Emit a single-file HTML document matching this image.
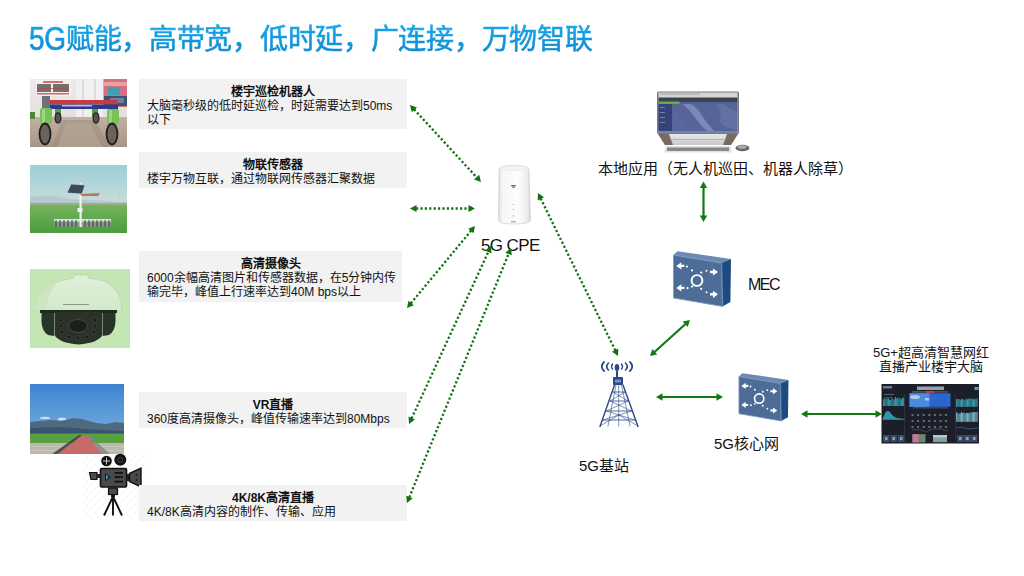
<!DOCTYPE html>
<html lang="zh-CN"><head><meta charset="utf-8">
<style>
*{margin:0;padding:0;box-sizing:border-box}
html,body{width:1024px;height:576px;overflow:hidden;background:#fff}
body{position:relative;font-family:"Liberation Sans",sans-serif;color:#111}
#title{position:absolute;left:29px;top:23px;font-size:28px;line-height:34px;font-weight:500;-webkit-text-stroke:0.6px transparent;letter-spacing:-0.28px;white-space:nowrap;color:#0e96da;
 background:linear-gradient(#19a9ea,#0a86ce);-webkit-background-clip:text;background-clip:text;-webkit-text-fill-color:transparent}
.box{position:absolute;left:139px;width:268px;background:#f2f2f2;font-size:12px;font-weight:300;line-height:14px;padding:5px 0 0 8px;color:#111;white-space:nowrap}
.box b{display:block;text-align:center;font-weight:bold;padding-right:8px}
.pic{position:absolute;overflow:hidden}
.d5{display:inline-block;transform:scaleY(1.17);transform-origin:50% 60%;background:linear-gradient(#19a9ea,#0a86ce);-webkit-background-clip:text;background-clip:text;-webkit-text-fill-color:transparent}
.lbl{position:absolute;font-size:15px;white-space:nowrap;color:#111}
svg{position:absolute;left:0;top:0}
</style></head><body>
<div id="title"><span class="d5">5G</span>赋能，高带宽，低时延，广连接，万物智联</div>


<svg width="1024" height="576" viewBox="0 0 1024 576" id="pics">
<defs>
<linearGradient id="wallg" x1="0" x2="0" y1="0" y2="1"><stop offset="0" stop-color="#ecebea"/><stop offset="1" stop-color="#dcd8d4"/></linearGradient>
<linearGradient id="floorg" x1="0" x2="0" y1="0" y2="1"><stop offset="0" stop-color="#c2b2a2"/><stop offset="1" stop-color="#a89484"/></linearGradient>
<linearGradient id="skyg" x1="0" x2="0" y1="0" y2="1"><stop offset="0" stop-color="#9ccfd8"/><stop offset="1" stop-color="#c8dcd8"/></linearGradient>
<linearGradient id="grassg" x1="0" x2="0" y1="0" y2="1"><stop offset="0" stop-color="#78b460"/><stop offset="1" stop-color="#4c9c3c"/></linearGradient>
<linearGradient id="sky2" x1="0" x2="0" y1="0" y2="1"><stop offset="0" stop-color="#3c84d0"/><stop offset="0.6" stop-color="#6aa4dc"/><stop offset="1" stop-color="#a8c8e6"/></linearGradient>
<linearGradient id="domeg" x1="0" x2="0" y1="0" y2="1"><stop offset="0" stop-color="#e0f1da"/><stop offset="1" stop-color="#d2e9c8"/></linearGradient>
</defs>
<!-- robot photo -->
<rect x="30" y="79" width="97" height="68" fill="url(#wallg)"/>
<rect x="30" y="117" width="97" height="30" fill="url(#floorg)"/>
<path d="M52,147 L62,120 L95,120 L110,147z" fill="#9a8a7c" opacity="0.5"/>
<path d="M58,147 L66,123 L90,123 L102,147z" fill="#b8a898" opacity="0.6"/>
<rect x="36" y="80" width="35" height="16" fill="#f4f2f0"/>
<rect x="43" y="81" width="20" height="2" fill="#d05050" opacity="0.8"/>
<rect x="37" y="84" width="14" height="8" fill="#5a5a5a" opacity="0.85"/>
<rect x="53" y="84" width="16" height="8" fill="#5a5a5a" opacity="0.85"/>
<rect x="37" y="88" width="32" height="0.8" fill="#c04040" opacity="0.8"/>
<rect x="37" y="93" width="32" height="1.5" fill="#d04040" opacity="0.8"/>
<rect x="76" y="79" width="27" height="38" fill="#f0f0f0"/>
<rect x="82" y="79" width="2" height="38" fill="#dcdcdc"/><rect x="94" y="79" width="2" height="38" fill="#dcdcdc"/>
<rect x="103.5" y="79" width="23.5" height="28" fill="#d07080"/>
<rect x="104" y="82" width="23" height="4" fill="#e8a0a0"/>
<rect x="108" y="87" width="12" height="8" fill="#40a0b0"/>
<rect x="104" y="96" width="23" height="10" fill="#405070"/>
<rect x="110" y="98" width="14" height="5" fill="#7080a0"/>
<rect x="42" y="96" width="8" height="13" fill="#707078"/>
<rect x="50" y="100" width="68" height="4.5" fill="#c83a40"/>
<rect x="50" y="104.5" width="68" height="4.5" fill="#2a3a90"/>
<rect x="62" y="105" width="30" height="1.5" fill="#e0e0f0" opacity="0.8"/>
<rect x="40" y="108" width="12" height="16" rx="2" fill="#78c058"/>
<rect x="42" y="109" width="3" height="14" fill="#a8e090" opacity="0.7"/>
<rect x="107" y="109" width="12" height="15" rx="2" fill="#78c058"/>
<rect x="109" y="110" width="3" height="13" fill="#a8e090" opacity="0.7"/>
<rect x="55" y="109" width="6" height="8" fill="#5a9a48"/><rect x="92" y="109" width="6" height="8" fill="#5a9a48"/>
<ellipse cx="45" cy="134" rx="5.5" ry="10.5" fill="#6a625c" stroke="#1e1e1e" stroke-width="1.8"/>
<ellipse cx="112" cy="134" rx="5.5" ry="10.5" fill="#6a625c" stroke="#1e1e1e" stroke-width="1.8"/>
<ellipse cx="58" cy="118" rx="2.8" ry="5" fill="#5a5450" stroke="#2a2a2a" stroke-width="1.4"/>
<ellipse cx="96" cy="118" rx="2.8" ry="5" fill="#5a5450" stroke="#2a2a2a" stroke-width="1.4"/>
<rect x="30" y="112" width="5" height="7" fill="#4a8a3a"/>

<!-- sensor photo -->
<rect x="30" y="165" width="97" height="38" fill="url(#skyg)"/>
<path d="M30,197 Q50,193 70,199 L127,202 L127,204 L30,204z" fill="#b6cace"/>
<rect x="30" y="203" width="97" height="30" fill="url(#grassg)"/>
<rect x="30" y="203" width="97" height="2" fill="#9aae80"/>
<rect x="54" y="219" width="57" height="8" fill="#8a9890" opacity="0.9"/>
<rect x="54" y="219" width="57" height="2.5" fill="#e8ecea" opacity="0.9"/>
<g stroke="#2a3a30" stroke-width="0.9"><path d="M56,220v7M60,220v7M64,220v7M68,220v7M72,220v7M76,220v7M85,220v7M89,220v7M93,220v7M97,220v7M101,220v7M105,220v7M109,220v7"/></g>
<rect x="79.5" y="183" width="2.2" height="44" fill="#eef0f0"/>
<path d="M67,193 L71,184 L85,185 L82,194z" fill="#3a4a5a" stroke="#e0e4e4" stroke-width="0.6"/>
<path d="M80,194 L100,193 L98,196 L82,196z" fill="#b07a60"/>
<rect x="77.5" y="208" width="5" height="4" fill="#f0f0f0"/>
<rect x="118" y="191" width="1.5" height="12" fill="#c8d0d0"/>

<!-- camera photo -->
<rect x="30" y="269" width="100" height="79" fill="#c4e6b4"/>
<path d="M35,311 Q36,290 55,282 L74,278 L74,275 L88,275 L88,278 L104,281 Q122,290 122,311z" fill="url(#domeg)" stroke="#b4d0a8" stroke-width="0.6"/>
<path d="M35,311 Q36,290 55,282 L58,282 Q48,292 46,311z" fill="#cce6c2"/>
<rect x="63" y="304" width="26" height="1" fill="#8a9a88"/>
<rect x="40" y="310" width="77" height="3" fill="#1e2a1e"/>
<path d="M41.5,313 L54,313 L54,336 L48,335 Q42,331 41.5,322z" fill="#283428"/>
<path d="M115.5,313 L103,313 L103,336 L109,335 Q115,331 115.5,322z" fill="#283428"/>
<path d="M54.5,312 L102.5,312 L102.5,335 Q98,343 78.5,344.5 Q59,343 54.5,335z" fill="#2a322a"/>
<ellipse cx="78" cy="326" rx="9.5" ry="6.5" fill="#1a201a" stroke="#4a544a" stroke-width="0.8"/>
<g fill="#1a1e1a" stroke="#4a524a" stroke-width="0.5">
<circle cx="61" cy="320" r="2"/><circle cx="61" cy="326" r="2"/><circle cx="62" cy="332" r="2"/>
<circle cx="95" cy="320" r="2"/><circle cx="95" cy="326" r="2"/><circle cx="94" cy="332" r="2"/>
<circle cx="69" cy="337" r="2"/><circle cx="78" cy="338" r="2"/><circle cx="87" cy="337" r="2"/>
</g>

<!-- landscape photo -->
<rect x="30" y="384" width="94" height="70" fill="url(#sky2)"/>
<ellipse cx="45" cy="418" rx="5" ry="1.2" fill="#e8eef8" opacity="0.8"/>
<ellipse cx="62" cy="419" rx="4" ry="1.5" fill="#eef2fa" opacity="0.8"/>
<path d="M30,422 L40,421 L52,420 L60,421 L66,420 L74,418 L82,419 L96,423 L106,424 L116,422 L124,423 L124,436 L30,436z" fill="#4e6a80"/>
<path d="M30,428 L60,427 L100,430 L124,431 L124,436 L30,436z" fill="#3a5470"/>
<rect x="30" y="433.5" width="94" height="9.5" fill="#58a040"/>
<rect x="30" y="443" width="94" height="11" fill="#bcb8ae"/>
<rect x="30" y="446" width="94" height="1" fill="#d0ccc4" opacity="0.7"/><rect x="30" y="450" width="94" height="1" fill="#d0ccc4" opacity="0.7"/>
<path d="M82,435 L86,435 L103,454 L58,454z" fill="#c86a6a"/>
<path d="M82,435 L58,454 L52,454 L79,435z" fill="#3a3a3a" opacity="0.8"/>
<path d="M86,435 L103,454 L110,454 L89,435z" fill="#7a8a88" opacity="0.8"/>

<!-- video camera icon -->
<defs><pattern id="hatch" width="8" height="8" patternUnits="userSpaceOnUse" x="83" y="453"><path d="M0,0 L8,8 M8,0 L0,8" stroke="#efefef" stroke-width="0.5"/></pattern></defs>
<rect x="83" y="454" width="62" height="64" fill="url(#hatch)"/>

<g>
<circle cx="106.5" cy="461" r="5.3" fill="#111"/>
<path d="M106.5,457.5 v7 M103,461 h7" stroke="#ddd" stroke-width="0.9"/>
<circle cx="120.3" cy="459.8" r="6" fill="#111"/>
<circle cx="120.3" cy="459.8" r="2.5" fill="none" stroke="#555" stroke-width="0.8"/>
<rect x="100.5" y="468.5" width="26" height="18.5" rx="1.2" fill="#4a4a4a" stroke="#111" stroke-width="1.6"/>
<path d="M105,473 L111,477.2 L105,481.4z" fill="#1a1a1a"/>
<path d="M106,474.5 L108.5,477.2 L106,480z" fill="#3aa0d0"/>
<path d="M114.5,472.8 h8.5 M114.5,477.2 h8.5 M114.5,481.6 h8.5" stroke="#111" stroke-width="1.8"/>
<path d="M89.5,472.5 L97,472.5 L97,479.5 L91,479.5z" fill="#4a4a4a" stroke="#111" stroke-width="1.2"/>
<rect x="97" y="474" width="3.5" height="4" fill="#222"/>
<rect x="126.5" y="474" width="3" height="7" fill="#222"/>
<path d="M129.5,473.5 L141,468 L141,487 L129.5,481.5z" fill="#4a4a4a" stroke="#111" stroke-width="1.4"/>
<circle cx="136.5" cy="475" r="0.9" fill="#111"/><circle cx="136.5" cy="480" r="0.9" fill="#111"/>
<rect x="108.5" y="488" width="9" height="6.5" fill="#4a4a4a" stroke="#111" stroke-width="1.2"/>
<rect x="111" y="494.5" width="4" height="2.5" fill="#111"/>
<path d="M113,496.5 L104,515.5 M113,496.5 L122,515.5 M113,496.5 L113,515.5" stroke="#111" stroke-width="1.9"/>
</g>

</svg>
<div class="box" style="top:79px;height:50px;padding-top:6px"><b>楼宇巡检机器人</b>大脑毫秒级的低时延巡检，时延需要达到50ms<br>以下</div>
<div class="box" style="top:152px;height:36px;padding-top:6px"><b>物联传感器</b>楼宇万物互联，通过物联网传感器汇聚数据</div>
<div class="box" style="top:251px;height:51px;width:263px;padding-top:6px"><b>高清摄像头</b>6000余幅高清图片和传感器数据，在5分钟内传<br>输完毕，峰值上行速率达到40M bps以上</div>
<div class="box" style="top:392px;height:36px;padding-top:6px"><b>VR直播</b>360度高清摄像头，峰值传输速率达到80Mbps</div>
<div class="box" style="top:485px;height:36px;padding-top:6px"><b>4K/8K高清直播</b>4K/8K高清内容的制作、传输、应用</div>

<div class="lbl" style="left:481px;top:235.5px;font-size:17px;letter-spacing:-0.6px">5G CPE</div>
<div class="lbl" style="left:598px;top:157px;font-size:15px">本地应用（无人机巡田、机器人除草）</div>
<div class="lbl" style="left:748px;top:276px;font-size:16px;letter-spacing:-1.5px">MEC</div>
<div class="lbl" style="left:579px;top:453.5px">5G基站</div>
<div class="lbl" style="left:714px;top:432px">5G核心网</div>
<div class="lbl" style="left:873px;top:345.5px;font-size:13px;text-align:center;line-height:14.5px">5G+超高清智慧网红<br>直播产业楼宇大脑</div>

<svg width="1024" height="576" viewBox="0 0 1024 576" id="icons">
<defs>
<linearGradient id="cpeg" x1="0" x2="1" y1="0" y2="0"><stop offset="0" stop-color="#dcdcdc"/><stop offset="0.12" stop-color="#f6f6f6"/><stop offset="0.6" stop-color="#fdfdfd"/><stop offset="0.9" stop-color="#ececec"/><stop offset="1" stop-color="#d4d4d4"/></linearGradient>
<linearGradient id="boxf" x1="0" x2="0" y1="0" y2="1"><stop offset="0" stop-color="#5a7aa6"/><stop offset="1" stop-color="#4a6892"/></linearGradient>
<linearGradient id="stand" x1="0" x2="0" y1="0" y2="1"><stop offset="0" stop-color="#e8e8e8"/><stop offset="1" stop-color="#c8c8c8"/></linearGradient>
<linearGradient id="mapg" x1="0" x2="1" y1="0" y2="1"><stop offset="0" stop-color="#5a6aa8"/><stop offset="0.5" stop-color="#7a88b8"/><stop offset="1" stop-color="#3e4e90"/></linearGradient>
<g id="nbox">
 <path d="M0.5,4 L4.5,0.2 L58,8 L48.4,12z" fill="#6c8ab2"/>
 <path d="M0.5,4 L48.4,12 L49.5,55.4 L0.5,47z" fill="#4e6c98" stroke="#7c9ac0" stroke-width="0.9"/>
 <path d="M48.4,12 L58,8 L57.4,51 L49.5,55.4z" fill="#1f4a80"/>
 <path d="M48.8,12.5 L49.8,55" stroke="#8aa6c8" stroke-width="0.6"/>
 <g fill="#fff" stroke="none">
  <circle cx="24" cy="29.5" r="5.4" fill="none" stroke="#fff" stroke-width="1.9"/>
  <path d="M3.3,14.9 l5,-3.6 v2.4 h3 v2.4 h-3 v2.4z"/><circle cx="14" cy="15.6" r="1.1"/><circle cx="19" cy="19.4" r="1.1"/>
  <path d="M3.3,36.9 l5,-3.6 v2.4 h3 v2.4 h-3 v2.4z"/><circle cx="14.5" cy="37.2" r="1.1"/><circle cx="19" cy="35.6" r="1.1"/>
  <path d="M45,21 l-5,-3.6 v2.4 h-3 v2.4 h3 v2.4z"/><circle cx="28.2" cy="21.6" r="1.1"/><circle cx="33.5" cy="19.8" r="1.0"/>
  <path d="M45,43.3 l-5,-3.6 v2.4 h-3 v2.4 h3 v2.4z"/><circle cx="28.2" cy="37.8" r="1.1"/><circle cx="33.5" cy="41.2" r="1.0"/>
 </g>
</g>
</defs>
<!-- CPE -->
<path d="M499,170 Q499,165.5 514,165.5 Q529,165.5 529,170 L530.5,220 Q530.5,224 514.5,224 Q498.5,224 498.5,220z" fill="url(#cpeg)" stroke="#d0d0d0" stroke-width="0.7"/>
<ellipse cx="514" cy="168.2" rx="14" ry="2.2" fill="#f2f5f3" stroke="#dfe6e2" stroke-width="0.5"/>
<path d="M511,185 h5 v1.2 h-5z M512,186.5 h3 v1.2 h-3z" fill="#777"/>
<circle cx="513.5" cy="204.5" r="0.6" fill="#999"/><circle cx="513.5" cy="209.3" r="0.6" fill="#999"/><circle cx="513.5" cy="216" r="1.1" fill="none" stroke="#c8c8c8" stroke-width="0.5"/>
<rect x="511" y="221.3" width="5" height="1" fill="#e07060"/>

<!-- Monitor -->
<rect x="657" y="91.5" width="82" height="42.5" rx="1.5" fill="#7a7a7a"/>
<rect x="658.5" y="92.5" width="79" height="40.5" fill="#d6d6d2"/>
<rect x="660" y="93.5" width="40" height="1.2" fill="#a8a8a8"/>
<rect x="658.5" y="97.5" width="79" height="4.5" fill="#3c4252"/>
<rect x="658.5" y="102" width="79" height="29" fill="#56649a"/>
<rect x="658.5" y="102" width="13.5" height="29" fill="#36427a"/>
<rect x="658.5" y="101.5" width="21" height="2.5" fill="#5fb040"/>
<path d="M683,104 Q690,110 696,119 Q701,126 707,131 L714,131 Q705,121 699,111 Q694,105 690,104z" fill="#8a98c4" opacity="0.7"/>
<path d="M716,104 Q722,112 720,122 Q724,128 737,130 L737,112 Q728,108 724,104z" fill="#6a78ac" opacity="0.6"/>
<path d="M673,110 Q680,118 688,122 Q684,128 690,131 L673,131z" fill="#5a6aa0" opacity="0.6"/>
<rect x="660" y="107" width="5" height="0.8" fill="#8a90b0"/><rect x="660" y="112" width="5" height="0.8" fill="#8a90b0"/><rect x="660" y="117" width="5" height="0.8" fill="#8a90b0"/><rect x="660" y="122" width="5" height="0.8" fill="#8a90b0"/>
<rect x="658.5" y="131" width="79" height="2" fill="#6a88a8"/>
<path d="M658,134 L738,134 L731,145 L665,145z" fill="url(#stand)"/>
<path d="M658,134 L669,134 L673,145 L665,145z" fill="#7a6a62"/><path d="M738,134 L727,134 L723,145 L731,145z" fill="#7a6a62"/>
<rect x="670" y="139" width="56" height="0.8" fill="#b0b0b0"/>
<path d="M666,146 L730,146 L732,152.5 L664,152.5z" fill="#e2e2e2"/>
<rect x="667" y="147.5" width="62" height="3.5" fill="#6a6a6a" opacity="0.75"/>
<ellipse cx="742.5" cy="148" rx="7" ry="3.3" fill="#6a6a6a"/><ellipse cx="742" cy="147" rx="4.5" ry="1.8" fill="#aaa"/>

<!-- MEC and Core -->
<use href="#nbox" x="673" y="251"/>
<use href="#nbox" x="738.5" y="373" transform="translate(738.5 373) scale(0.862 0.866) translate(-738.5 -373)"/>

<!-- Tower -->
<g fill="none" stroke="#2a4a86" stroke-linecap="round">
 <path d="M604,362 Q599.5,366.5 604,371" stroke-width="1.8"/><path d="M630,362 Q634.5,366.5 630,371" stroke-width="1.8"/>
 <path d="M608.5,363 Q605,366.5 608.5,370" stroke-width="1.6"/><path d="M625.5,363 Q629,366.5 625.5,370" stroke-width="1.6"/>
 <path d="M612.5,364 Q610.5,366.5 612.5,369" stroke-width="1.4"/><path d="M621.5,364 Q623.5,366.5 621.5,369" stroke-width="1.4"/>
 <path d="M614.5,385 L600,426.5 M623,385 L638,426.5" stroke-width="1.4"/>
 <path d="M616,385 L608,426 M621.5,385 L630,426 M618.7,385 L618.7,426" stroke-width="0.6"/>
 <path d="M613,392 L625,392 M610,401 L628,401 M606.5,411 L631.5,411 M603,420 L635,420" stroke-width="0.8"/>
 <path d="M613,392 L628,401 L606.5,411 L635,420 M625,392 L610,401 L631.5,411 L603,420 M600,426 L618.7,415 L638,426" stroke-width="0.6"/>
</g>
<ellipse cx="617" cy="367.5" rx="2.3" ry="3.6" fill="#2a4a86"/>
<rect x="616" y="371" width="2" height="6" fill="#2a4a86"/>
<rect x="613" y="377" width="10" height="8" rx="1" fill="#2a4a86"/>
<rect x="615" y="379.5" width="6" height="3" fill="#7a90c0"/>

<!-- Dashboard screen -->
<rect x="881.5" y="384" width="97.5" height="59.5" fill="#1c1e2a"/>
<rect x="883" y="386" width="9" height="2.5" fill="#9aa0b0" opacity="0.7"/>
<rect x="917" y="386.5" width="27" height="3.5" fill="#c8ccd8" opacity="0.75"/>
<rect x="912" y="391" width="36" height="1.8" fill="#4a4e5a"/>
<rect x="926" y="391" width="8" height="1.8" fill="#d83848"/>
<rect x="974.5" y="387" width="4" height="3" fill="#30b0e0"/>
<rect x="909.5" y="393.2" width="41" height="13.6" fill="#2a66d0"/>
<rect x="909.5" y="393.2" width="20" height="13.6" fill="#4a8ae0"/>
<ellipse cx="915" cy="397" rx="5" ry="2" fill="#c8dcf4" opacity="0.8"/>
<rect x="925" y="398" width="4" height="2.5" fill="#e0e8f8" opacity="0.7"/>
<rect x="913" y="407.5" width="35" height="0.8" fill="#6a6a78"/>
<rect x="884" y="394" width="10" height="1" fill="#8a8a9a" opacity="0.6"/>
<rect x="883.20" y="399.29" width="0.9" height="6.71" fill="#38a8b8"/>
<rect x="884.38" y="398.37" width="0.9" height="7.63" fill="#38a8b8"/>
<rect x="885.56" y="398.89" width="0.9" height="7.11" fill="#38a8b8"/>
<rect x="886.74" y="398.19" width="0.9" height="7.81" fill="#38a8b8"/>
<rect x="887.92" y="398.12" width="0.9" height="7.88" fill="#38a8b8"/>
<rect x="889.10" y="399.80" width="0.9" height="6.20" fill="#38a8b8"/>
<rect x="890.28" y="399.96" width="0.9" height="6.04" fill="#38a8b8"/>
<rect x="891.46" y="397.49" width="0.9" height="8.51" fill="#38a8b8"/>
<rect x="892.64" y="399.22" width="0.9" height="6.78" fill="#38a8b8"/>
<rect x="893.82" y="399.30" width="0.9" height="6.70" fill="#38a8b8"/>
<rect x="895.00" y="397.01" width="0.9" height="8.99" fill="#38a8b8"/>
<rect x="896.18" y="398.59" width="0.9" height="7.41" fill="#38a8b8"/>
<rect x="897.36" y="397.49" width="0.9" height="8.51" fill="#38a8b8"/>
<rect x="898.54" y="398.57" width="0.9" height="7.43" fill="#38a8b8"/>
<rect x="899.72" y="398.08" width="0.9" height="7.92" fill="#38a8b8"/>
<rect x="900.90" y="399.55" width="0.9" height="6.45" fill="#38a8b8"/>
<rect x="902.08" y="398.10" width="0.9" height="7.90" fill="#38a8b8"/>
<rect x="903.26" y="397.40" width="0.9" height="8.60" fill="#38a8b8"/>
<rect x="884" y="397" width="8" height="0.7" fill="#d04040" opacity="0.8"/>
<path d="M882.5,419 L886,411.5 L889,411 L893,416 L897,418 L905,419z" fill="#2e9aa8"/>
<rect x="882.5" y="419" width="22.5" height="0.8" fill="#6a7a88"/>
<rect x="904" y="394" width="0.6" height="46" fill="#3a3e4a"/>
<rect x="955" y="394" width="0.6" height="46" fill="#3a3e4a"/>
<rect x="956.20" y="399.25" width="0.95" height="7.55" fill="#3aa8bc"/>
<rect x="957.40" y="398.82" width="0.95" height="7.98" fill="#3aa8bc"/>
<rect x="958.60" y="398.96" width="0.95" height="7.84" fill="#3aa8bc"/>
<rect x="959.80" y="400.17" width="0.95" height="6.63" fill="#3aa8bc"/>
<rect x="961.00" y="398.78" width="0.95" height="8.02" fill="#3aa8bc"/>
<rect x="962.20" y="399.12" width="0.95" height="7.68" fill="#3aa8bc"/>
<rect x="963.40" y="399.70" width="0.95" height="7.10" fill="#3aa8bc"/>
<rect x="964.60" y="400.24" width="0.95" height="6.56" fill="#3aa8bc"/>
<rect x="965.80" y="398.57" width="0.95" height="8.23" fill="#3aa8bc"/>
<rect x="967.00" y="399.35" width="0.95" height="7.45" fill="#3aa8bc"/>
<rect x="968.20" y="398.86" width="0.95" height="7.94" fill="#3aa8bc"/>
<rect x="969.40" y="398.54" width="0.95" height="8.26" fill="#3aa8bc"/>
<rect x="970.60" y="398.87" width="0.95" height="7.93" fill="#3aa8bc"/>
<rect x="971.80" y="398.46" width="0.95" height="8.34" fill="#3aa8bc"/>
<rect x="973.00" y="399.51" width="0.95" height="7.29" fill="#3aa8bc"/>
<rect x="974.20" y="398.70" width="0.95" height="8.10" fill="#3aa8bc"/>
<rect x="975.40" y="399.41" width="0.95" height="7.39" fill="#3aa8bc"/>
<rect x="976.60" y="398.43" width="0.95" height="8.37" fill="#3aa8bc"/>
<rect x="956.20" y="412.04" width="0.95" height="9.76" fill="#7ac0d0"/>
<rect x="957.40" y="413.61" width="0.95" height="8.19" fill="#7ac0d0"/>
<rect x="958.60" y="413.53" width="0.95" height="8.27" fill="#7ac0d0"/>
<rect x="959.80" y="413.37" width="0.95" height="8.43" fill="#7ac0d0"/>
<rect x="961.00" y="411.87" width="0.95" height="9.93" fill="#7ac0d0"/>
<rect x="962.20" y="412.93" width="0.95" height="8.87" fill="#7ac0d0"/>
<rect x="963.40" y="412.55" width="0.95" height="9.25" fill="#7ac0d0"/>
<rect x="964.60" y="413.20" width="0.95" height="8.60" fill="#7ac0d0"/>
<rect x="965.80" y="412.79" width="0.95" height="9.01" fill="#7ac0d0"/>
<rect x="967.00" y="413.03" width="0.95" height="8.77" fill="#7ac0d0"/>
<rect x="968.20" y="413.10" width="0.95" height="8.70" fill="#7ac0d0"/>
<rect x="969.40" y="412.63" width="0.95" height="9.17" fill="#7ac0d0"/>
<rect x="970.60" y="412.63" width="0.95" height="9.17" fill="#7ac0d0"/>
<rect x="971.80" y="411.99" width="0.95" height="9.81" fill="#7ac0d0"/>
<rect x="973.00" y="412.44" width="0.95" height="9.36" fill="#7ac0d0"/>
<rect x="974.20" y="411.94" width="0.95" height="9.86" fill="#7ac0d0"/>
<rect x="975.40" y="412.09" width="0.95" height="9.71" fill="#7ac0d0"/>
<rect x="976.60" y="411.82" width="0.95" height="9.98" fill="#7ac0d0"/>
<path d="M956,428 L962,427 L968,429 L978,428" stroke="#3a8aa0" stroke-width="0.6" fill="none"/>
<rect x="911.5" y="414" width="2" height="2" fill="#7a8090" opacity="0.8"/>
<rect x="917.1" y="414" width="2" height="2" fill="#7a8090" opacity="0.8"/>
<rect x="922.7" y="414" width="2" height="2" fill="#7a8090" opacity="0.8"/>
<rect x="928.3" y="414" width="2" height="2" fill="#7a8090" opacity="0.8"/>
<rect x="933.9" y="414" width="2" height="2" fill="#7a8090" opacity="0.8"/>
<rect x="939.5" y="414" width="2" height="2" fill="#7a8090" opacity="0.8"/>
<rect x="945.1" y="414" width="2" height="2" fill="#7a8090" opacity="0.8"/>
<rect x="911.5" y="420" width="2" height="2" fill="#7a8090" opacity="0.8"/>
<rect x="917.1" y="420" width="2" height="2" fill="#7a8090" opacity="0.8"/>
<rect x="922.7" y="420" width="2" height="2" fill="#7a8090" opacity="0.8"/>
<rect x="928.3" y="420" width="2" height="2" fill="#7a8090" opacity="0.8"/>
<rect x="933.9" y="420" width="2" height="2" fill="#7a8090" opacity="0.8"/>
<rect x="939.5" y="420" width="2" height="2" fill="#7a8090" opacity="0.8"/>
<rect x="945.1" y="420" width="2" height="2" fill="#7a8090" opacity="0.8"/>
<rect x="911.5" y="426" width="2" height="2" fill="#7a8090" opacity="0.8"/>
<rect x="917.1" y="426" width="2" height="2" fill="#7a8090" opacity="0.8"/>
<rect x="922.7" y="426" width="2" height="2" fill="#7a8090" opacity="0.8"/>
<rect x="928.3" y="426" width="2" height="2" fill="#7a8090" opacity="0.8"/>
<rect x="933.9" y="426" width="2" height="2" fill="#7a8090" opacity="0.8"/>
<rect x="939.5" y="426" width="2" height="2" fill="#7a8090" opacity="0.8"/>
<rect x="945.1" y="426" width="2" height="2" fill="#7a8090" opacity="0.8"/>
<path d="M912,430 Q920,428 926,432 Q934,426 948,431" stroke="#6a5a58" stroke-width="0.6" fill="none"/>
<rect x="912.5" y="434.2" width="13" height="8.2" fill="#6a8a6a"/>
<rect x="912.5" y="434.2" width="6" height="8.2" fill="#d070a0"/>
<rect x="933" y="435" width="14" height="7.2" fill="#80a098"/>
<rect x="933" y="435" width="14" height="2.5" fill="#b0c8d0"/>
<rect x="883" y="435" width="6.5" height="7" fill="#3a4a6a"/><rect x="885" y="437" width="2.5" height="3" fill="#b8c0d0" opacity="0.7"/>
<rect x="890.5" y="435" width="6.5" height="7" fill="#3a4a6a"/><rect x="892.5" y="437" width="2.5" height="3" fill="#b8c0d0" opacity="0.7"/>
<rect x="898" y="435" width="6.5" height="7" fill="#3a4a6a"/><rect x="900" y="437" width="2.5" height="3" fill="#b8c0d0" opacity="0.7"/>
<rect x="957" y="435" width="6.5" height="7" fill="#3a4a6a"/><rect x="959" y="437" width="2.5" height="3" fill="#b8c0d0" opacity="0.7"/>
<rect x="964" y="435" width="6.5" height="7" fill="#3a4a6a"/><rect x="966" y="437" width="2.5" height="3" fill="#b8c0d0" opacity="0.7"/>
<rect x="971" y="435" width="6.5" height="7" fill="#3a4a6a"/><rect x="973" y="437" width="2.5" height="3" fill="#b8c0d0" opacity="0.7"/>
</svg>
<svg width="1024" height="576" viewBox="0 0 1024 576" id="arrows">
<line x1="414.1" y1="109.4" x2="476.9" y2="177.6" stroke="#0f720f" stroke-width="2.3" stroke-dasharray="2.2 2.2"/>
<g fill="#0f720f"><path d="M481.0,182.0 L474.0,179.6 L479.2,174.8z"/><path d="M410.0,105.0 L411.8,112.2 L417.0,107.4z"/></g>
<line x1="416.0" y1="208.5" x2="469.0" y2="208.5" stroke="#0f720f" stroke-width="2.3" stroke-dasharray="2.2 2.2"/>
<g fill="#0f720f"><path d="M475.0,208.5 L468.5,212.0 L468.5,205.0z"/><path d="M410.0,208.5 L416.5,212.0 L416.5,205.0z"/></g>
<line x1="410.8" y1="303.4" x2="471.2" y2="230.6" stroke="#0f720f" stroke-width="2.3" stroke-dasharray="2.2 2.2"/>
<g fill="#0f720f"><path d="M475.0,226.0 L473.5,233.2 L468.2,228.8z"/><path d="M407.0,308.0 L413.8,305.2 L408.5,300.8z"/></g>
<line x1="411.5" y1="418.6" x2="488.5" y2="251.4" stroke="#0f720f" stroke-width="2.3" stroke-dasharray="2.2 2.2"/>
<g fill="#0f720f"><path d="M491.0,246.0 L491.5,253.4 L485.1,250.4z"/><path d="M409.0,424.0 L414.9,419.6 L408.5,416.6z"/></g>
<line x1="409.3" y1="497.4" x2="508.7" y2="253.6" stroke="#0f720f" stroke-width="2.3" stroke-dasharray="2.2 2.2"/>
<g fill="#0f720f"><path d="M511.0,248.0 L511.8,255.3 L505.3,252.7z"/><path d="M407.0,503.0 L412.7,498.3 L406.2,495.7z"/></g>
<line x1="540.6" y1="198.4" x2="615.4" y2="350.6" stroke="#0f720f" stroke-width="2.3" stroke-dasharray="2.2 2.2"/>
<g fill="#0f720f"><path d="M618.0,356.0 L612.0,351.7 L618.3,348.6z"/><path d="M538.0,193.0 L537.7,200.4 L544.0,197.3z"/></g>
<line x1="703.5" y1="187.5" x2="703.5" y2="216.0" stroke="#137a13" stroke-width="2.2"/>
<g fill="#137a13"><path d="M703.5,222.0 L699.8,215.5 L707.2,215.5z"/><path d="M703.5,181.5 L699.8,188.0 L707.2,188.0z"/></g>
<line x1="654.5" y1="352.0" x2="685.5" y2="324.0" stroke="#137a13" stroke-width="2.2"/>
<g fill="#137a13"><path d="M690.0,320.0 L687.7,327.1 L682.7,321.6z"/><path d="M650.0,356.0 L657.3,354.4 L652.3,348.9z"/></g>
<line x1="662.0" y1="397.0" x2="717.0" y2="397.0" stroke="#137a13" stroke-width="2.2"/>
<g fill="#137a13"><path d="M723.0,397.0 L716.5,400.8 L716.5,393.2z"/><path d="M656.0,397.0 L662.5,400.8 L662.5,393.2z"/></g>
<line x1="807.0" y1="414.0" x2="876.0" y2="414.0" stroke="#137a13" stroke-width="2.2"/>
<g fill="#137a13"><path d="M882.0,414.0 L875.5,417.8 L875.5,410.2z"/><path d="M801.0,414.0 L807.5,417.8 L807.5,410.2z"/></g>

</svg>
</body></html>
